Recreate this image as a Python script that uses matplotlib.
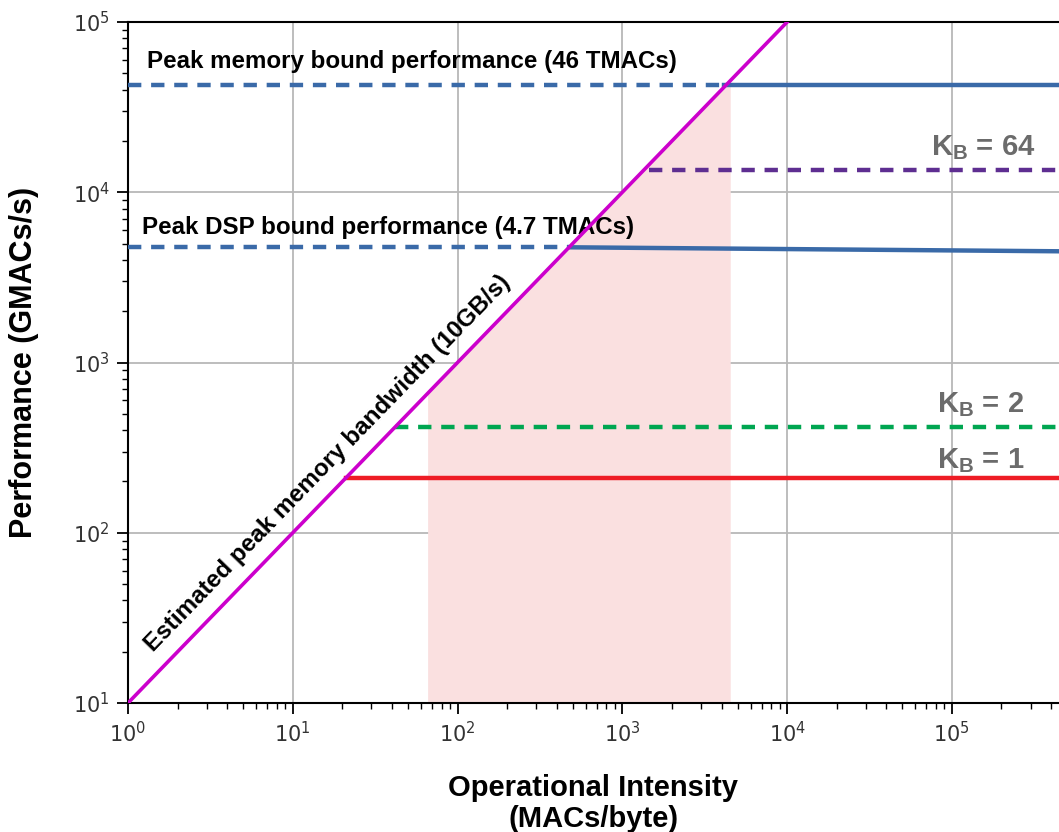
import numpy as np
import matplotlib
matplotlib.use("Agg")
import matplotlib.pyplot as plt

plt.rcParams['mathtext.fontset'] = 'custom'
plt.rcParams['mathtext.bf'] = 'Liberation Sans:bold'
plt.rcParams['mathtext.rm'] = 'Liberation Sans'

# ---- data ----
bw_x = [1, 1e4]                 # memory bandwidth roof (10 GB/s)
bw_y = [10, 1e5]

mem_dash_x = [1, 4150]          # peak memory bound (dashed part)
mem_dash_y = [4.25e4, 4.25e4]
mem_solid_x = [4150, 4.5e5]
mem_solid_y = [4.25e4, 4.25e4]

dsp_dash_x = [1, 475]           # peak DSP bound
dsp_dash_y = [4750, 4750]
dsp_solid_x = [475, 4.5e5]
dsp_solid_y = [4750, 4500]

kb64_x = [1450, 4.5e5]
kb64_y = [13500, 13500]
kb2_x = [42, 4.5e5]
kb2_y = [420, 420]
kb1_x = [21, 4.5e5]
kb1_y = [210, 210]

shade_x = [65.8, 4515]          # shaded intensity range

labels_kb = ['64', '2', '1']

fig = plt.figure(figsize=(10.59, 8.32), dpi=100)
ax = fig.add_axes([128/1059, 1-703/832, 1-128/1059, (703-22)/832])
ax.set_xscale('log')
ax.set_yscale('log')
ax.set_xlim(1, 10**5.65)
ax.set_ylim(10, 1e5)

ax.grid(True, which='major', color='#b8b8b8', lw=1.3)
ax.set_axisbelow(True)

# shading under the roof line
sx = np.logspace(np.log10(shade_x[0]), np.log10(shade_x[1]), 200)
ax.fill_between(sx, 10, 10*sx, color='#fae0e0', lw=0, zorder=1)

blue = '#3a6aa8'
ax.plot(mem_dash_x, mem_dash_y, color=blue, lw=3.2, dashes=(3, 2.2), zorder=3)
ax.plot(mem_solid_x, mem_solid_y, color=blue, lw=3.2, zorder=3)
ax.plot(dsp_dash_x, dsp_dash_y, color=blue, lw=3.2, dashes=(3, 2.2), zorder=3)
ax.plot(dsp_solid_x, dsp_solid_y, color=blue, lw=3.2, zorder=3)
ax.plot(kb64_x, kb64_y, color='#5e2e91', lw=3.2, dashes=(3, 2.2), zorder=3)
ax.plot(kb2_x, kb2_y, color='#00a651', lw=3.2, dashes=(3, 2.2), zorder=3)
ax.plot(kb1_x, kb1_y, color='#ee1c25', lw=3.2, zorder=3)
ax.plot(bw_x, bw_y, color='#cc00cc', lw=2.6, zorder=4)

tf = dict(family='Liberation Sans', fontweight='bold', color='black')
ax.text(1.31, 5.9e4, 'Peak memory bound performance (46 TMACs)', fontsize=17.4,
        va='center', ha='left', **tf)
ax.text(1.22, 6.2e3, 'Peak DSP bound performance (4.7 TMACs)', fontsize=17.4,
        va='center', ha='left', **tf)
ax.text(16.3, 255, 'Estimated peak memory bandwidth (10GB/s)', fontsize=17.5,
        rotation=45.9, rotation_mode='anchor', ha='center', va='center', **tf)

gray = '#6b6b6b'
kb_pos = [(1.54e5, 1.83e4), (1.49e5, 565), (1.49e5, 265)]
for (px, py), lab in zip(kb_pos, labels_kb):
    ax.text(px, py, r'$\mathbf{K_B}$' + ' = ' + lab, fontsize=21, color=gray,
            family='Liberation Sans', fontweight='bold', ha='center', va='center')

ax.set_ylabel('Performance (GMACs/s)', fontsize=22, fontweight='bold',
              family='Liberation Sans', labelpad=24)
ax.set_xlabel('Operational Intensity\n(MACs/byte)', fontsize=21, fontweight='bold',
              family='Liberation Sans', labelpad=20, linespacing=1.15)

ax.spines['right'].set_visible(False)
for s in ['left', 'bottom', 'top']:
    ax.spines[s].set_linewidth(1.5)
ax.tick_params(which='major', length=8, width=1.3, labelsize=15, labelcolor='#333333', pad=5)
ax.tick_params(which='minor', length=4.5, width=1.0)

fig.savefig('out.png', dpi=100)
